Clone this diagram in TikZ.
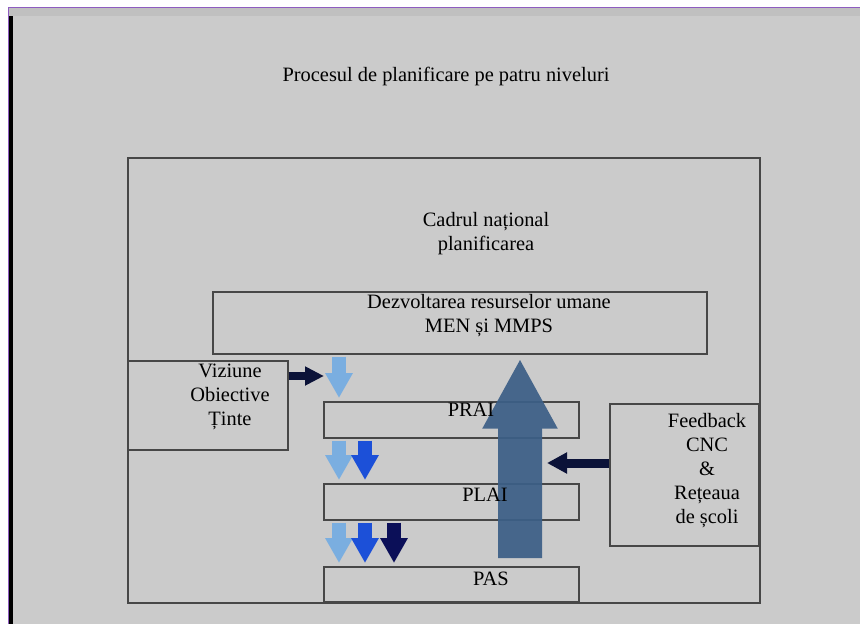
\documentclass[tikz,border=0pt]{standalone}
\usepackage{fontspec}
\setmainfont{Liberation Serif}
\usetikzlibrary{arrows.meta, positioning}
\definecolor{bggray}{HTML}{CBCBCB}
\definecolor{bandgray}{HTML}{C0C0C0}
\definecolor{edgepurple}{HTML}{8E5CC0}
\definecolor{boxline}{HTML}{474747}
\definecolor{lightarr}{HTML}{7AAEE0}
\definecolor{midarr}{HTML}{1C50D8}
\definecolor{darkarr}{HTML}{0B0F58}
\definecolor{navyarr}{HTML}{0B1238}
\definecolor{bigarr}{HTML}{3C5F87}
\tikzset{
    x=1pt, y=-1pt, % pixel units, y grows downwards
    box/.style={draw=boxline, line width=1.6pt, anchor=north west, inner sep=0pt}, % framed level box
    txt/.style={font=\fontsize{20.4}{24}\selectfont, align=center, inner sep=0pt}, % every text
    down/.style={line width=14pt, -{Triangle[width=26pt, length=25pt]}}, % small arrows between levels
    side/.style={draw=navyarr, line width=9pt, -{Triangle[width=20pt, length=20pt]}}, % arrows from the side boxes
    up/.style={draw=bigarr, line width=44pt, -{Triangle[width=70pt, length=70pt]}}, % big feedback arrow
}
\begin{document}
\begin{tikzpicture}
\useasboundingbox (0,0) rectangle (860,624);
% page background
\fill[white] (0,0) rectangle (860,624);
\fill[bggray] (8,7) rectangle (860,624);
\fill[bandgray] (8,7) rectangle (860,16);
\fill[black] (9,16) rectangle (12.5,624);
\draw[edgepurple, line width=1pt] (8,624) -- (8,7) -- (860,7);

% boxes
\node[box, minimum width=632pt, minimum height=445pt] (cadru) at (127,157) {};
\node[box, minimum width=494pt, minimum height=62pt] (dezv) at (212,291) {};
\node[box, minimum width=160pt, minimum height=89pt] (viziune) at (127,360) {};
\node[box, minimum width=255pt, minimum height=36pt] (prai) at (323,401) {};
\node[box, minimum width=255pt, minimum height=36pt] (plai) at (323,483) {};
\node[box, minimum width=255pt, minimum height=35pt] (pas) at (323,566) {};
\node[box, minimum width=149pt, minimum height=142pt] (feedback) at (609,403) {};

% arrows between the levels
\foreach \ua/\ub/\row in {dezv/prai/{339/lightarr}, prai/plai/{339/lightarr,365/midarr}, plai/pas/{339/lightarr,365/midarr,394/darkarr}}
    \foreach \x/\col in \row
        \draw[down, draw=\col, shorten <=2pt, shorten >=3pt] (\x,0 |- \ua.south) -- (\x,0 |- \ub.north);

% arrows from the side boxes
\coordinate (vizend) at (324,376);
\coordinate (fbend) at (547,463);
\draw[side, line width=8pt, -{Triangle[width=18pt, length=19pt]}] (viziune.east |- vizend) -- (vizend);
\draw[side] (feedback.west |- fbend) -- (fbend);
\begin{scope}[transparency group, opacity=0.93]
\draw[up, shorten <=8pt, shorten >=4pt] (520,0 |- pas.north) -- (520,0 |- dezv.south);
\end{scope}

% texts
\node[txt] (titlu) at (446,76) {Procesul de planificare pe patru niveluri};
\node[txt] (cadrutxt) at (486,234) {Cadrul național\\planificarea};
\node[txt] (dezvtxt) at (489,316) {Dezvoltarea resurselor umane\\MEN și MMPS};
\node[txt] (viziunetxt) at (230,397) {Viziune\\Obiective\\Ținte};
\node[txt] (praitxt) at (471,410) {PRAI};
\node[txt] (plaitxt) at (485,495) {PLAI};
\node[txt] (pastxt) at (491,579) {PAS};
\node[txt] (feedbacktxt) at (707,471) {Feedback\\CNC\\\&\\Rețeaua\\de școli};
\end{tikzpicture}
\end{document}
